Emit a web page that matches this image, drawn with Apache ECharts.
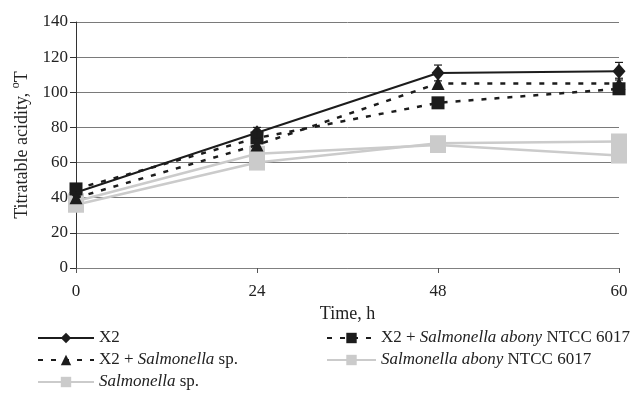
<!DOCTYPE html>
<html>
<head>
<meta charset="utf-8">
<script src="https://cdn.jsdelivr.net/npm/echarts@6/dist/echarts.min.js"></script>
<style>
  html, body { margin: 0; padding: 0; background: #fff; }
  #chart { width: 638px; height: 398px; }
</style>
</head>
<body>
<div id="chart"></div>
<script>
// Sampling times (h)
const hours = ['0', '24', '48', '60'];

// Titratable acidity, °T
const x2 = [43, 77, 111, 112];
const x2Abony = [45, 74, 94, 102];
const x2Sp = [40, 70, 105, 105];
const abony = [38, 65, 70, 64];
const salSp = [36, 60, 71, 72];

// Standard deviations shown as error bars
const x2Err = [1, 3, 4.5, 5];
const x2SpErr = [0, 0, 0, 3];

const yTicks = { min: 0, max: 140, interval: 20 };

const names = {
  x2: 'X2',
  x2Abony: 'X2 + Salmonella abony NTCC 6017',
  x2Sp: 'X2 + Salmonella sp.',
  abony: 'Salmonella abony NTCC 6017',
  salSp: 'Salmonella sp.'
};

const FONT = '"Liberation Serif", "Times New Roman", serif';
const DARK = '#1c1c1c';
const GREY = '#cbcbcb';

// Legend labels with italic species names
const richLabel = {
  [names.x2]: '{n|X2}',
  [names.x2Abony]: '{n|X2 + }{i|Salmonella abony}{n| NTCC 6017}',
  [names.x2Sp]: '{n|X2 + }{i|Salmonella}{n| sp.}',
  [names.abony]: '{i|Salmonella abony}{n| NTCC 6017}',
  [names.salSp]: '{i|Salmonella}{n| sp.}'
};

const legendText = {
  fontFamily: FONT,
  fontSize: 17,
  color: '#222',
  lineHeight: 18,
  rich: {
    n: { fontFamily: FONT, fontSize: 17, color: '#222', lineHeight: 18 },
    i: { fontFamily: FONT, fontSize: 17, color: '#222', fontStyle: 'italic', lineHeight: 18 }
  }
};

// One legend entry per slot: [series name, left, top, icon width]
const legendSlots = [
  [names.x2, 37, 329, 56],
  [names.x2Sp, 37, 351, 56],
  [names.salSp, 37, 373, 56],
  [names.x2Abony, 326, 329, 49],
  [names.abony, 326, 351, 49]
];

function errorData(values, errs) {
  const out = [];
  values.forEach((v, i) => {
    if (errs[i] > 0) out.push([i, v - errs[i], v + errs[i]]);
  });
  return out;
}

function renderError(params, api) {
  const lo = api.coord([api.value(0), api.value(1)]);
  const hi = api.coord([api.value(0), api.value(2)]);
  const cap = 4;
  const style = { stroke: DARK, lineWidth: 1.2 };
  return {
    type: 'group',
    children: [
      { type: 'line', shape: { x1: lo[0], y1: lo[1], x2: hi[0], y2: hi[1] }, style },
      { type: 'line', shape: { x1: hi[0] - cap, y1: hi[1], x2: hi[0] + cap, y2: hi[1] }, style },
      { type: 'line', shape: { x1: lo[0] - cap, y1: lo[1], x2: lo[0] + cap, y2: lo[1] }, style }
    ]
  };
}

const chart = echarts.init(document.getElementById('chart'), null, { renderer: 'canvas' });

chart.setOption({
  animation: false,
  backgroundColor: '#fff',
  textStyle: { fontFamily: FONT },
  grid: { left: 76, right: 19, top: 22, bottom: 130 },
  xAxis: {
    type: 'category',
    data: hours,
    boundaryGap: false,
    name: 'Time, h',
    nameLocation: 'middle',
    nameGap: 35,
    nameTextStyle: { fontFamily: FONT, fontSize: 18, color: '#222' },
    axisLine: { lineStyle: { color: '#808080', width: 1 } },
    axisTick: { show: true, length: 5, lineStyle: { color: '#555' } },
    axisLabel: { fontFamily: FONT, fontSize: 17, color: '#222', margin: 15 },
    splitLine: { show: false }
  },
  yAxis: {
    type: 'value',
    min: yTicks.min,
    max: yTicks.max,
    interval: yTicks.interval,
    name: '{t|Titratable acidity, }{s|o}{t|T}',
    nameLocation: 'middle',
    nameGap: 43,
    nameRotate: 90,
    nameTextStyle: {
      fontFamily: FONT,
      fontSize: 18,
      color: '#222',
      rich: {
        t: { fontFamily: FONT, fontSize: 18, color: '#222', lineHeight: 22, verticalAlign: 'bottom' },
        s: { fontFamily: FONT, fontSize: 12, color: '#222', lineHeight: 22, verticalAlign: 'top' }
      }
    },
    axisLine: { show: true, lineStyle: { color: '#333', width: 1 } },
    axisTick: { show: true, length: 6, lineStyle: { color: '#333' } },
    axisLabel: { fontFamily: FONT, fontSize: 17, color: '#222', margin: 8 },
    splitLine: { show: true, lineStyle: { color: '#7a7a7a', width: 1 } }
  },
  legend: legendSlots.map(([name, left, top, w]) => ({
    data: [name],
    orient: 'horizontal',
    left: left,
    top: top,
    itemWidth: w,
    itemHeight: 13,
    padding: 0,
    textStyle: legendText,
    formatter: n => richLabel[n],
    selectedMode: false
  })),
  series: [
    {
      name: names.x2,
      type: 'line',
      data: x2,
      symbol: 'diamond',
      symbolSize: [13, 15],
      lineStyle: { color: DARK, width: 2 },
      itemStyle: { color: DARK },
      z: 5
    },
    {
      name: names.x2Abony,
      type: 'line',
      data: x2Abony,
      symbol: 'rect',
      symbolSize: 13,
      lineStyle: { color: DARK, width: 2.5, type: [5, 8] },
      itemStyle: { color: DARK },
      z: 5
    },
    {
      name: names.x2Sp,
      type: 'line',
      data: x2Sp,
      symbol: 'triangle',
      symbolSize: 13,
      lineStyle: { color: DARK, width: 2.5, type: [5, 8] },
      itemStyle: { color: DARK },
      z: 5
    },
    {
      name: names.abony,
      type: 'line',
      data: abony,
      symbol: 'rect',
      symbolSize: 16,
      lineStyle: { color: GREY, width: 2.5 },
      itemStyle: { color: GREY },
      z: 4
    },
    {
      name: names.salSp,
      type: 'line',
      data: salSp,
      symbol: 'rect',
      symbolSize: 16,
      lineStyle: { color: GREY, width: 2.5 },
      itemStyle: { color: GREY },
      z: 4
    },
    {
      type: 'custom',
      data: errorData(x2, x2Err),
      renderItem: renderError,
      encode: { x: 0, y: [1, 2] },
      z: 6,
      silent: true
    },
    {
      type: 'custom',
      data: errorData(x2Sp, x2SpErr),
      renderItem: renderError,
      encode: { x: 0, y: [1, 2] },
      z: 6,
      silent: true
    }
  ]
});
</script>
</body>
</html>
